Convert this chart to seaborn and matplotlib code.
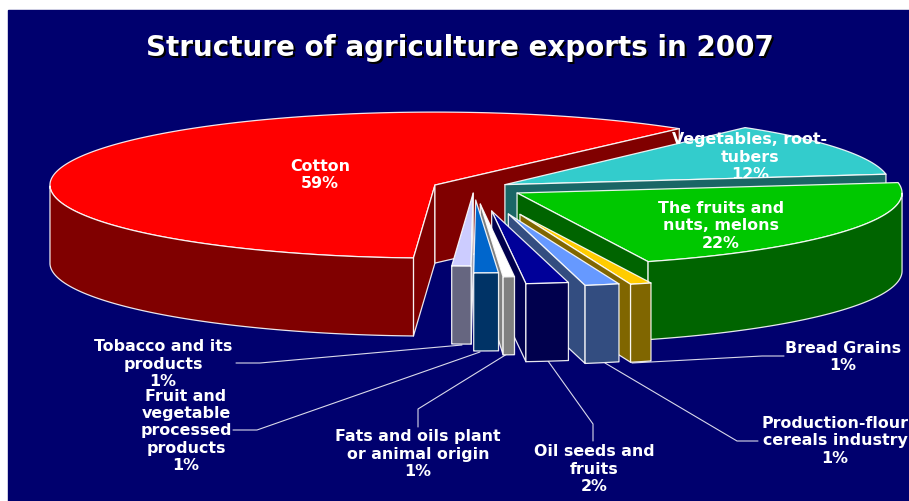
import numpy as np
import matplotlib
matplotlib.use("Agg")
import matplotlib.pyplot as plt
from matplotlib.patches import Polygon, Rectangle
import seaborn as sns

# Export shares in percent, clockwise from the top of the pie
categories = ["Vegetables, root-\ntubers", "The fruits and\nnuts, melons", "Bread Grains",
              "Production-flour\ncereals industry", "Oil seeds and\nfruits",
              "Fats and oils plant\nor animal origin",
              "Fruit and\nvegetable\nprocessed\nproducts",
              "Tobacco and its\nproducts", "Cotton"]
shares = [12, 22, 1, 1, 2, 1, 1, 1, 59]
top_colors = ["#33CCCC", "#00C800", "#FFCC00", "#6699FF", "#000099",
              "#FFFFFF", "#0066CC", "#CCCCFF", "#FF0000"]
explode = [0.0925, 0.131, 0.38, 0.366, 0.318, 0.22, 0.164, 0.07, 0.109]

title = "Structure of agriculture exports in 2007"
NAVY = "#00006E"
START = 51.4
RX, RY, DEPTH = 385.0, 73.0, 78.0
CX, CY = 474.0, 188.0

sns.set_style("white")
palette = sns.color_palette(top_colors)

fig = plt.figure(figsize=(9.09, 5.01), dpi=100, facecolor="white")
ax = fig.add_axes([0, 0, 1, 1])
ax.set_xlim(0, 909)
ax.set_ylim(501, 0)
ax.axis("off")
ax.add_patch(Rectangle((8, 10), 901, 491, color=NAVY, zorder=0))


def view_angle(t):
    """Foreshortening of the tilted pie: the front rim appears turned slightly."""
    return t + np.interp(t, [-309, -250, -96.2, -92.6, -89, -85.4, -78.2, -74.6, -71, -50],
                         [-0.8, 0, 3.0, 2.3, 2.4, 0.5, -0.3, 1.3, 0.9, 0])


def rim(apex, t):
    a = np.radians(view_angle(np.asarray(t, dtype=float)))
    return np.column_stack([apex[0] + RX * np.cos(a), apex[1] - RY * np.sin(a)])


def face(points, color, z):
    ax.add_patch(Polygon(points, closed=True, facecolor=color, zorder=z,
                         edgecolor=(1, 1, 1, 0.9), linewidth=0.9, joinstyle="round"))


edges = START - np.cumsum([0] + shares) * 3.6
order = [8, 0, 1, 2, 3, 4, 5, 6, 7]  # cotton sits behind every other slice
depth_vec = np.array([0, DEPTH])
label_z = {}
for rank, i in enumerate(order):
    t0, t1 = edges[i], edges[i + 1]
    mid = np.radians(view_angle((t0 + t1) / 2))
    apex = (CX + explode[i] * RX * np.cos(mid), CY - explode[i] * RY * np.sin(mid))
    color = palette[i]
    wall = tuple(0.5 * c for c in color)
    z = 2 + rank
    label_z[i] = z + 0.1

    arc_t = np.linspace(t0, t1, 240)
    arc = rim(apex, arc_t)
    face(np.vstack([[apex], arc]), color, z)

    # Straight cut faces that turn towards the viewer
    a_start, a_end = np.radians(view_angle(t0)), np.radians(view_angle(t1))
    apex_arr = np.array(apex)
    if np.cos(a_start) < 0:
        p = arc[0]
        face([apex_arr, p, p + depth_vec, apex_arr + depth_vec], wall, z + 0.2)
    if np.cos(a_end) > 0:
        p = arc[-1]
        face([apex_arr, p, p + depth_vec, apex_arr + depth_vec], wall, z + 0.2)

    # Outer wall along the front half of the rim
    front = np.sin(np.radians(view_angle(arc_t))) <= 0
    if front.any():
        top = arc[front]
        face(np.vstack([top, (top + depth_vec)[::-1]]), wall, z + 0.3)

text_style = dict(color="white", ha="center", va="center", linespacing=1.2,
                  fontfamily="DejaVu Sans", fontweight="bold", fontsize=11.4)
label_xy = [(750, 157), (721, 226), (843, 357), (835, 441), (594, 469),
            (418, 454), (186, 431), (163, 364), (320, 175)]
for i, (name, share) in enumerate(zip(categories, shares)):
    ax.text(*label_xy[i], f"{name}\n{share}%", zorder=label_z[i] if i < 2 else 30, **text_style)

title_style = dict(ha="center", va="center", fontfamily="DejaVu Sans",
                   fontweight="bold", fontsize=20)
ax.text(461.5, 49.5, title, color="black", zorder=30, **title_style)
ax.text(460, 48, title, color="white", zorder=31, **title_style)

# Leader lines from the outside labels to their slices
leaders = [
    [(236, 363), (260, 363), (462, 345)],
    [(233, 430), (257, 430), (480, 352)],
    [(418, 427), (418, 409), (507, 354)],
    [(593, 441), (593, 424), (548, 361)],
    [(758, 441), (737, 441), (605, 363)],
    [(784, 356), (762, 356), (632, 363)],
]
for path in leaders:
    xs, ys = zip(*path)
    ax.plot(xs, ys, color=(1, 1, 1, 0.85), lw=0.8, zorder=1)

fig.savefig("out.png", dpi=100, facecolor="white")
